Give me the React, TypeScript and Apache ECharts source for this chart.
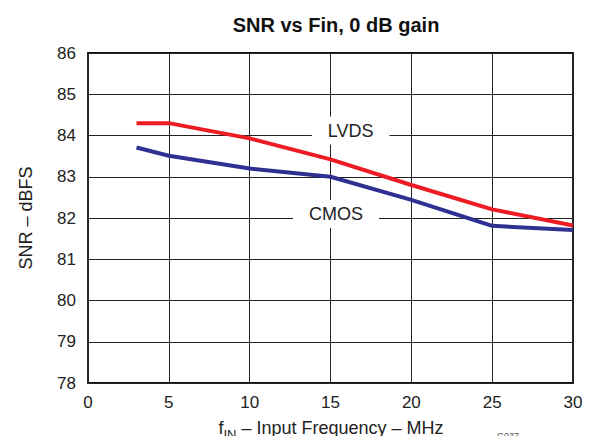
import React, { useEffect, useRef } from "react";
import * as echarts from "echarts";

const freqMHz = [3, 5, 10, 15, 20, 25, 30];
const lvdsSNR = [84.3, 84.3, 83.93, 83.42, 82.8, 82.21, 81.82];
const cmosSNR = [83.71, 83.51, 83.2, 83.0, 82.44, 81.81, 81.71];
const lvdsLabelAt = [16.25, 84.12];
const cmosLabelAt = [15.34, 82.1];

const FONT = "Liberation Sans, Arial, Helvetica, sans-serif";

export default function App() {
  const ref = useRef<HTMLDivElement>(null);
  useEffect(() => {
    if (!ref.current) return;
    const chart = echarts.init(ref.current, null, { renderer: "svg" });
    const option: any = {
      animation: false,
      backgroundColor: "#fff",
      textStyle: { fontFamily: FONT },
      title: {
        text: "SNR vs Fin, 0 dB gain",
        left: 331,
        top: 10,
        textAlign: "center",
        textStyle: { fontFamily: FONT, fontSize: 20, fontWeight: "bold", color: "#111" },
      },
      grid: {
        left: 88,
        right: 32,
        top: 53,
        bottom: 61,
        show: true,
        borderColor: "#111",
        borderWidth: 1.8,
        backgroundColor: "transparent",
      },
      xAxis: {
        type: "value",
        min: 0,
        max: 30,
        interval: 5,
        axisLine: { show: false },
        axisTick: { show: false },
        axisLabel: { color: "#222", fontSize: 17, margin: 11, fontFamily: FONT },
        splitLine: { show: true, lineStyle: { color: "#222", width: 1 } },
      },
      yAxis: {
        type: "value",
        min: 78,
        max: 86,
        interval: 1,
        axisLine: { show: false },
        axisTick: { show: false },
        axisLabel: { color: "#222", fontSize: 17, margin: 12, fontFamily: FONT },
        splitLine: { show: true, lineStyle: { color: "#222", width: 1 } },
        name: "SNR – dBFS",
        nameLocation: "middle",
        nameGap: 53,
        nameTextStyle: { color: "#222", fontSize: 18, fontFamily: FONT },
      },
      series: [
        {
          name: "LVDS",
          type: "line",
          data: freqMHz.map((f, i) => [f, lvdsSNR[i]]),
          symbol: "none",
          lineStyle: { color: "#ed1c24", width: 4 },
          z: 3,
        },
        {
          name: "CMOS",
          type: "line",
          data: freqMHz.map((f, i) => [f, cmosSNR[i]]),
          symbol: "none",
          lineStyle: { color: "#2e3192", width: 4 },
          z: 3,
        },
      ],
    };
    chart.setOption(option);
    const p1 = chart.convertToPixel({ gridIndex: 0 }, lvdsLabelAt) as number[];
    const p2 = chart.convertToPixel({ gridIndex: 0 }, cmosLabelAt) as number[];
    const label = (text: string, p: number[]) => ({
      type: "text",
      x: p[0],
      y: p[1],
      z: 2,
      style: {
        text,
        fill: "#222",
        font: `18px ${FONT}`,
        align: "center",
        verticalAlign: "middle",
        backgroundColor: "#fff",
        padding: [5, 16, 5, 16],
      },
    });
    chart.setOption({
      graphic: [
        label("LVDS", p1),
        label("CMOS", p2),
        {
          type: "text",
          x: 331,
          y: 430,
          style: {
            text: "{a|f}{s|IN}{a| – Input Frequency – MHz}",
            align: "center",
            verticalAlign: "middle",
            rich: {
              a: { fontSize: 18, fontFamily: FONT, fill: "#222", color: "#222", verticalAlign: "bottom", padding: [0, 0, 4, 0] },
              s: { fontSize: 13, fontFamily: FONT, fill: "#222", color: "#222", verticalAlign: "bottom" },
            },
          },
        },
        {
          type: "text",
          x: 497,
          y: 431,
          style: { text: "G037", fill: "#555", font: `9px ${FONT}` },
        },
      ],
    });
    return () => chart.dispose();
  }, []);
  return <div ref={ref} style={{ width: 605, height: 444, margin: -8 }} />;
}
